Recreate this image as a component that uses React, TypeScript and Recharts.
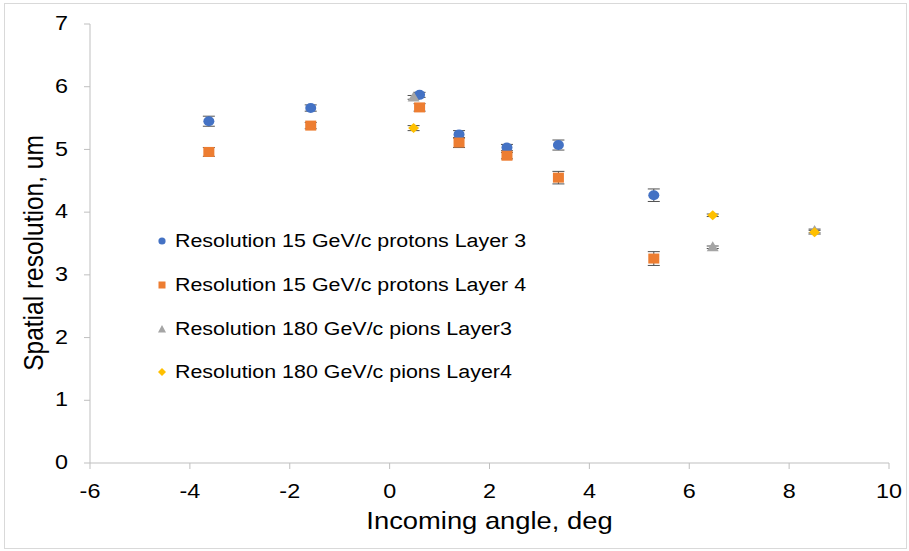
import React from 'react';
import { ScatterChart, Scatter, XAxis, YAxis, ErrorBar, Legend } from 'recharts';

const protonsL3 = [
  { x: -3.62, y: 5.45, err: 0.08 },
  { x: -1.58, y: 5.66, err: 0.05 },
  { x: 0.60, y: 5.87, err: 0.04 },
  { x: 1.39, y: 5.24, err: 0.06 },
  { x: 2.35, y: 5.03, err: 0.05 },
  { x: 3.38, y: 5.07, err: 0.08 },
  { x: 5.29, y: 4.27, err: 0.1 },
];
const protonsL4 = [
  { x: -3.62, y: 4.96, err: 0.07 },
  { x: -1.58, y: 5.38, err: 0.05 },
  { x: 0.60, y: 5.67, err: 0.06 },
  { x: 1.39, y: 5.11, err: 0.08 },
  { x: 2.35, y: 4.90, err: 0.05 },
  { x: 3.38, y: 4.55, err: 0.1 },
  { x: 5.29, y: 3.26, err: 0.11 },
];
const pionsL3 = [
  { x: 0.48, y: 5.83, err: 0.03 },
  { x: 6.47, y: 3.44, err: 0.02 },
  { x: 8.51, y: 3.70, err: 0.03 },
];
const pionsL4 = [
  { x: 0.48, y: 5.34, err: 0.04 },
  { x: 6.47, y: 3.95, err: 0.02 },
  { x: 8.51, y: 3.68, err: 0.03 },
];
const xTicks = [-6, -4, -2, 0, 2, 4, 6, 8, 10];
const yTicks = [0, 1, 2, 3, 4, 5, 6, 7];
const seriesNames = [
  'Resolution 15 GeV/c protons Layer 3',
  'Resolution 15 GeV/c protons Layer 4',
  'Resolution 180 GeV/c pions Layer3',
  'Resolution 180 GeV/c pions Layer4',
];
const xTitle = 'Incoming angle, deg';
const yTitle = 'Spatial resolution, um';
const colors = ['#4472C4', '#ED7D31', '#A5A5A5', '#FFC000'];
const FONT = '"Liberation Sans", Arial, Helvetica, sans-serif';
const SX = 1.14;

const Circle = (p: any) => <ellipse cx={p.cx} cy={p.cy} rx={5.5} ry={5} fill={colors[0]} />;
const Square = (p: any) => <rect x={p.cx - 5.5} y={p.cy - 5} width={11} height={10} fill={colors[1]} />;
const Triangle = (p: any) => (
  <polygon points={`${p.cx},${p.cy - 6} ${p.cx + 6},${p.cy + 4} ${p.cx - 6},${p.cy + 4}`} fill={colors[2]} />
);
const Diamond = (p: any) => (
  <polygon points={`${p.cx},${p.cy - 5} ${p.cx + 5.5},${p.cy} ${p.cx},${p.cy + 5} ${p.cx - 5.5},${p.cy}`} fill={colors[3]} />
);

const XTick = (p: any) => (
  <text
    transform={`translate(${p.x},${p.y}) scale(${SX},1)`}
    textAnchor="middle"
    dy="0.71em"
    fontSize={20.5}
    fontFamily={FONT}
    fill="#000"
  >
    {String(p.payload.value)}
  </text>
);
const YTick = (p: any) => (
  <text
    transform={`translate(${p.x},${p.y}) scale(${SX},1)`}
    textAnchor="end"
    dy="0.3em"
    fontSize={20.5}
    fontFamily={FONT}
    fill="#000"
  >
    {String(p.payload.value)}
  </text>
);

const XTitle = (p: any) => {
  const vb = p.viewBox || {};
  return (
    <text
      transform={`translate(${vb.x + vb.width / 2},${529}) scale(${SX},1)`}
      textAnchor="middle"
      fontSize={24}
      fontFamily={FONT}
      fill="#000"
    >
      {xTitle}
    </text>
  );
};
const YTitle = () => (
  <text
    transform={`translate(42.5,253) scale(${SX},1) rotate(-90)`}
    textAnchor="middle"
    fontSize={24.5}
    fontFamily={FONT}
    fill="#000"
  >
    {yTitle}
  </text>
);

const legendIcon = (i: number) => {
  if (i === 0) return <circle cx={5} cy={5} r={3.6} fill={colors[0]} />;
  if (i === 1) return <rect x={1.5} y={1.5} width={7} height={7} fill={colors[1]} />;
  if (i === 2) return <polygon points="5,1 9,8.5 1,8.5" fill={colors[2]} />;
  return <polygon points="5,1 9,5 5,9 1,5" fill={colors[3]} />;
};

const LegendContent = () => (
  <div style={{ position: 'relative', fontFamily: FONT, width: 420, height: 160 }}>
    {seriesNames.map((n, i) => (
      <div key={n} style={{ position: 'absolute', left: 0, top: i * 43.8, height: 20, width: 420 }}>
        <svg width={10} height={10} style={{ position: 'absolute', left: 2, top: 5 }}>{legendIcon(i)}</svg>
        <span
          style={{
            position: 'absolute',
            left: 20,
            top: 0,
            fontSize: 18.8,
            lineHeight: '20px',
            color: '#000',
            whiteSpace: 'nowrap',
            transform: `scaleX(${SX})`,
            transformOrigin: 'left center',
          }}
        >
          {n}
        </span>
      </div>
    ))}
  </div>
);

export default function App() {
  return (
    <div style={{ position: 'absolute', left: 0, top: 0, width: 909, height: 551, background: '#fff' }}>
      <div style={{ position: 'absolute', left: 4, top: 3, width: 901, height: 544, border: '1px solid #d9d9d9' }} />
      <ScatterChart width={909} height={551} margin={{ top: 24, right: 20, bottom: 28, left: 30 }}>
        <XAxis
          type="number"
          dataKey="x"
          domain={[-6, 10]}
          ticks={xTicks}
          interval={0}
          height={60}
          tickSize={6}
          tickMargin={14}
          stroke="#bfbfbf"
          tick={<XTick />}
          label={<XTitle />}
        />
        <YAxis
          type="number"
          dataKey="y"
          domain={[0, 7]}
          ticks={yTicks}
          interval={0}
          width={60}
          tickSize={6}
          tickMargin={16}
          stroke="#bfbfbf"
          tick={<YTick />}
          label={<YTitle />}
        />
        <Legend
          layout="vertical"
          align="center"
          verticalAlign="middle"
          wrapperStyle={{ left: 155, top: 231, width: 420, height: 160 }}
          content={<LegendContent />}
        />
        <Scatter name={seriesNames[0]} data={protonsL3} shape={Circle} isAnimationActive={false}>
          <ErrorBar dataKey="err" direction="y" width={6} stroke="#505050" strokeWidth={1} />
        </Scatter>
        <Scatter name={seriesNames[1]} data={protonsL4} shape={Square} isAnimationActive={false}>
          <ErrorBar dataKey="err" direction="y" width={6} stroke="#505050" strokeWidth={1} />
        </Scatter>
        <Scatter name={seriesNames[2]} data={pionsL3} shape={Triangle} isAnimationActive={false}>
          <ErrorBar dataKey="err" direction="y" width={6} stroke="#505050" strokeWidth={1} />
        </Scatter>
        <Scatter name={seriesNames[3]} data={pionsL4} shape={Diamond} isAnimationActive={false}>
          <ErrorBar dataKey="err" direction="y" width={6} stroke="#505050" strokeWidth={1} />
        </Scatter>
      </ScatterChart>
    </div>
  );
}
